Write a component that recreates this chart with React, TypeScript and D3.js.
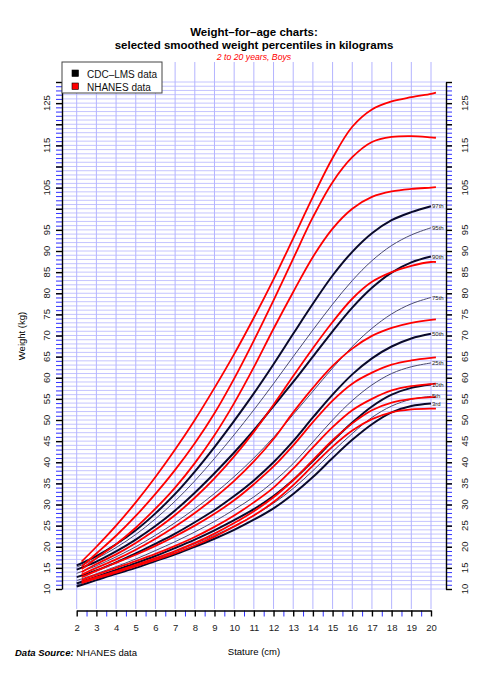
import React, { useRef, useEffect } from "react";
import * as d3 from "d3";

// CDC-LMS smoothed percentiles, boys, ages 2..20
const cdcAges = [2, 3, 4, 5, 6, 7, 8, 9, 10, 11, 12, 13, 14, 15, 16, 17, 18, 19, 20];
const cdcP97 = [15.6, 17.8, 20.6, 23.9, 27.9, 32.5, 37.8, 43.6, 49.8, 56.3, 63.2, 70.4, 77.5, 84.2, 89.8, 94.2, 97.3, 99.2, 100.6];
const cdcP95 = [15.2, 17.2, 19.8, 22.9, 26.6, 30.8, 35.6, 40.9, 46.5, 52.4, 58.6, 65.0, 71.3, 77.4, 83.0, 87.7, 91.3, 93.8, 95.5];
const cdcP90 = [14.6, 16.5, 18.9, 21.7, 24.9, 28.6, 32.8, 37.4, 42.3, 47.6, 53.3, 59.0, 65.0, 71.0, 76.6, 81.3, 84.9, 87.3, 88.7];
const cdcP75 = [13.7, 15.5, 17.6, 20.0, 22.7, 25.7, 29.0, 32.6, 36.6, 41.0, 45.9, 51.3, 56.8, 62.3, 67.4, 71.7, 75.1, 77.5, 79.0];
const cdcP50 = [12.8, 14.4, 16.3, 18.4, 20.7, 23.1, 25.8, 28.7, 32.0, 35.7, 40.0, 45.0, 50.6, 56.0, 60.8, 64.6, 67.4, 69.3, 70.4];
const cdcP25 = [12.0, 13.6, 15.3, 17.1, 19.1, 21.2, 23.5, 26.0, 28.8, 31.8, 35.4, 39.7, 44.8, 50.0, 54.6, 58.3, 61.0, 62.6, 63.5];
const cdcP10 = [11.3, 12.9, 14.5, 16.1, 17.8, 19.7, 21.7, 23.9, 26.3, 28.9, 32.0, 35.8, 40.3, 45.0, 49.4, 53.2, 56.0, 57.6, 58.4];
const cdcP5 = [10.9, 12.5, 14.0, 15.5, 17.1, 18.8, 20.7, 22.7, 24.9, 27.4, 30.3, 33.8, 38.0, 42.5, 46.8, 50.6, 53.3, 54.9, 55.6];
const cdcP3 = [10.6, 12.1, 13.6, 15.0, 16.6, 18.2, 20.0, 21.9, 24.0, 26.4, 29.1, 32.5, 36.5, 41.0, 45.3, 49.0, 51.8, 53.3, 53.9];

// NHANES smoothed percentiles
const nhAges = [2.25, 3, 4, 5, 6, 7, 8, 9, 10, 11, 12, 13, 14, 15, 16, 17, 18, 19, 20, 20.25];
const nhP97 = [16.5, 20.0, 25.0, 30.5, 36.5, 43.0, 50.0, 57.6, 65.6, 74.2, 83.3, 93.0, 102.8, 112.0, 119.4, 123.5, 125.4, 126.4, 127.2, 127.5];
const nhP95 = [15.3, 18.4, 22.6, 27.3, 32.5, 38.2, 44.5, 51.6, 59.8, 68.8, 78.3, 88.2, 98.0, 106.3, 112.2, 115.8, 117.0, 117.2, 116.9, 116.8];
const nhP90 = [14.7, 17.3, 20.6, 24.5, 29.0, 34.0, 39.8, 46.4, 54.0, 62.5, 71.6, 80.3, 88.6, 95.3, 100.0, 102.8, 104.1, 104.7, 105.0, 105.1];
const nhP75 = [14.0, 15.9, 18.2, 20.9, 24.0, 27.5, 31.6, 36.2, 41.4, 47.2, 53.6, 60.4, 67.0, 73.2, 78.7, 82.7, 85.0, 86.5, 87.4, 87.4];
const nhP50 = [13.4, 15.0, 17.0, 19.3, 21.9, 24.8, 28.0, 31.6, 35.6, 40.2, 45.5, 51.8, 57.6, 62.8, 66.9, 69.9, 71.8, 73.0, 73.7, 73.8];
const nhP25 = [12.8, 14.3, 16.2, 18.1, 20.2, 22.5, 25.0, 27.8, 31.0, 34.8, 39.0, 44.0, 49.5, 54.6, 58.6, 61.2, 63.1, 64.1, 64.7, 64.8];
const nhP10 = [12.1, 13.4, 15.0, 16.6, 18.3, 20.2, 22.3, 24.7, 27.4, 30.5, 34.0, 38.5, 43.5, 48.3, 52.3, 55.0, 57.0, 58.0, 58.5, 58.6];
const nhP5 = [11.7, 12.8, 14.2, 15.7, 17.3, 19.0, 20.9, 23.1, 25.6, 28.4, 31.7, 35.8, 40.5, 45.2, 49.2, 52.3, 54.1, 55.0, 55.4, 55.4];
const nhP3 = [11.4, 12.5, 13.9, 15.4, 16.9, 18.5, 20.3, 22.4, 24.8, 27.4, 30.6, 34.6, 39.2, 43.7, 47.5, 50.2, 51.8, 52.5, 52.7, 52.7];

const cdcSeries = [
  { label: "97th", values: cdcP97, thick: true },
  { label: "95th", values: cdcP95, thick: false },
  { label: "90th", values: cdcP90, thick: true },
  { label: "75th", values: cdcP75, thick: false },
  { label: "50th", values: cdcP50, thick: true },
  { label: "25th", values: cdcP25, thick: false },
  { label: "10th", values: cdcP10, thick: true },
  { label: "5th", values: cdcP5, thick: false },
  { label: "3rd", values: cdcP3, thick: true },
];
const nhSeries = [nhP97, nhP95, nhP90, nhP75, nhP50, nhP25, nhP10, nhP5, nhP3];

const yLabels = [10, 15, 20, 25, 30, 35, 40, 45, 50, 55, 60, 65, 70, 75, 80, 85, 90, 95, 105, 115, 125];
const xLabels = [2, 3, 4, 5, 6, 7, 8, 9, 10, 11, 12, 13, 14, 15, 16, 17, 18, 19, 20];

const App = () => {
  const ref = useRef(null);

  useEffect(() => {
    document.body.style.margin = "0";
    const width = 485;
    const height = 685;
    const plotLeft = 62;
    const plotRight = 446;
    const plotTop = 62;
    const plotBottom = 610;
    const font = "'Liberation Sans', Arial, sans-serif";

    const x = d3.scaleLinear().domain([2, 20]).range([76.7, 431]);
    const y = d3.scaleLinear().domain([10, 130]).range([589, 82]);

    d3.select(ref.current).selectAll("*").remove();
    const svg = d3
      .select(ref.current)
      .append("svg")
      .attr("width", width)
      .attr("height", height)
      .style("display", "block")
      .style("background", "#fff")
      .style("font-family", font);

    // grid
    svg.append("g")
      .selectAll("line")
      .data(d3.range(10, 131))
      .join("line")
      .attr("x1", plotLeft)
      .attr("x2", plotRight)
      .attr("y1", (d) => y(d))
      .attr("y2", (d) => y(d))
      .attr("stroke", "#c4c4ff")
      .attr("stroke-width", 1);
    svg.append("g")
      .selectAll("line")
      .data(d3.range(2, 21))
      .join("line")
      .attr("x1", (d) => x(d))
      .attr("x2", (d) => x(d))
      .attr("y1", plotTop)
      .attr("y2", plotBottom - 1)
      .attr("stroke", "#b4b4ff")
      .attr("stroke-width", 1);

    // y axes (left + right)
    const drawYAxis = (axisFn, xPos, labelX) => {
      svg.append("g")
        .attr("transform", `translate(${xPos},0)`)
        .call(axisFn(y).tickValues(d3.range(10, 131)).tickSize(6).tickFormat(() => ""))
        .call((g) => g.select(".domain").remove())
        .call((g) => g.selectAll(".tick line").attr("stroke", "#3030ff"));
      svg.append("g")
        .attr("transform", `translate(${xPos},0)`)
        .call(axisFn(y).tickValues(d3.range(10, 131, 5)).tickSize(6).tickSizeOuter(0).tickFormat(() => ""))
        .call((g) => g.selectAll("path, line").attr("stroke", "#000").attr("stroke-width", 1.4));
      svg.append("g")
        .selectAll("text")
        .data(yLabels)
        .join("text")
        .attr("transform", (d) => `translate(${labelX},${y(d)}) rotate(-90)`)
        .attr("text-anchor", "middle")
        .attr("dy", "0.35em")
        .attr("font-size", 9.5)
        .attr("fill", "#222")
        .text((d) => d);
    };
    drawYAxis(d3.axisLeft, plotLeft, 47);
    drawYAxis(d3.axisRight, plotRight, 465);

    // x axis
    svg.append("g")
      .attr("transform", `translate(0,${plotBottom + 0.5})`)
      .call(d3.axisBottom(x).tickValues(d3.range(2.5, 20, 1)).tickSize(6).tickFormat(() => ""))
      .call((g) => g.select(".domain").remove())
      .call((g) => g.selectAll(".tick line").attr("stroke", "#3030ff"));
    svg.append("g")
      .attr("transform", `translate(0,${plotBottom + 0.5})`)
      .call(d3.axisBottom(x).tickValues(xLabels).tickSize(6).tickSizeOuter(0).tickPadding(8))
      .call((g) => g.selectAll("path, line").attr("stroke", "#000").attr("stroke-width", 1.4))
      .call((g) => g.selectAll("text").attr("font-size", 9.5).attr("fill", "#222").attr("font-family", font));

    const lineCdc = d3
      .line()
      .x((d, i) => x(cdcAges[i]))
      .y((d) => y(d))
      .curve(d3.curveCatmullRom.alpha(0.5));
    const lineNh = d3
      .line()
      .x((d, i) => x(nhAges[i]))
      .y((d) => y(d))
      .curve(d3.curveCatmullRom.alpha(0.5));

    // CDC curves
    svg.append("g")
      .selectAll("path")
      .data(cdcSeries)
      .join("path")
      .attr("fill", "none")
      .attr("stroke", (d) => (d.thick ? "#0a0a2a" : "#4a4a6e"))
      .attr("stroke-width", (d) => (d.thick ? 2 : 1))
      .attr("d", (d) => lineCdc(d.values));

    // NHANES curves
    svg.append("g")
      .selectAll("path")
      .data(nhSeries)
      .join("path")
      .attr("fill", "none")
      .attr("stroke", "#ff0000")
      .attr("stroke-width", 1.8)
      .attr("d", (d) => lineNh(d));

    // percentile labels
    svg.append("g")
      .selectAll("text")
      .data(cdcSeries)
      .join("text")
      .attr("x", x(20) + 1)
      .attr("y", (d) => y(d.values[d.values.length - 1]))
      .attr("dy", "0.35em")
      .attr("font-size", 6)
      .attr("fill", "#222")
      .text((d) => d.label);

    // legend
    const lg = svg.append("g");
    lg.append("rect")
      .attr("x", plotLeft)
      .attr("y", plotTop)
      .attr("width", 100)
      .attr("height", 31)
      .attr("fill", "#fff")
      .attr("stroke", "#444");
    [["CDC–LMS data", "#000"], ["NHANES data", "#ff0000"]].forEach(([t, c], i) => {
      lg.append("rect")
        .attr("x", 72)
        .attr("y", 70 + i * 13)
        .attr("width", 6.5)
        .attr("height", 6.5)
        .attr("fill", c)
        .attr("stroke", "#000")
        .attr("stroke-width", 0.6);
      lg.append("text")
        .attr("x", 87)
        .attr("y", 77.5 + i * 13)
        .attr("font-size", 10)
        .attr("fill", "#111")
        .text(t);
    });

    // titles
    const cx = (plotLeft + plotRight) / 2;
    svg.append("text")
      .attr("x", cx)
      .attr("y", 36)
      .attr("text-anchor", "middle")
      .attr("font-size", 11.5)
      .attr("font-weight", "bold")
      .text("Weight–for–age charts:");
    svg.append("text")
      .attr("x", cx)
      .attr("y", 49)
      .attr("text-anchor", "middle")
      .attr("font-size", 11.5)
      .attr("font-weight", "bold")
      .text("selected smoothed weight percentiles in kilograms");
    svg.append("text")
      .attr("x", cx)
      .attr("y", 59.5)
      .attr("text-anchor", "middle")
      .attr("font-size", 8.7)
      .attr("font-style", "italic")
      .attr("fill", "#ff0000")
      .text("2 to 20 years, Boys");

    // axis titles
    svg.append("text")
      .attr("transform", `translate(22,${(plotTop + plotBottom) / 2}) rotate(-90)`)
      .attr("text-anchor", "middle")
      .attr("dy", "0.35em")
      .attr("font-size", 9.5)
      .text("Weight (kg)");
    svg.append("text")
      .attr("x", cx)
      .attr("y", 655)
      .attr("text-anchor", "middle")
      .attr("font-size", 9.5)
      .text("Stature (cm)");
    const src = svg.append("text").attr("x", 15).attr("y", 656).attr("font-size", 9.5);
    src.append("tspan").attr("font-weight", "bold").attr("font-style", "italic").text("Data Source:");
    src.append("tspan").text(" NHANES data");
  }, []);

  return <div ref={ref}></div>;
};

export default App;
